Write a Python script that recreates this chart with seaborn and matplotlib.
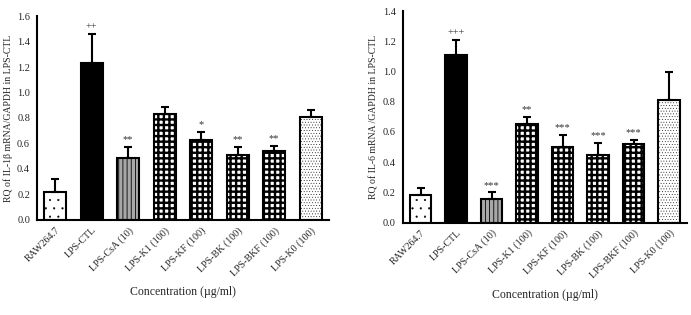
import matplotlib
matplotlib.use("Agg")
import matplotlib.pyplot as plt
import seaborn as sns
import pandas as pd
import numpy as np

categories = ["RAW264.7", "LPS-CTL", "LPS-CsA (10)", "LPS-K1 (100)", "LPS-KF (100)",
              "LPS-BK (100)", "LPS-BKF (100)", "LPS-K0 (100)"]
il1b_mean = [0.22, 1.23, 0.49, 0.83, 0.63, 0.51, 0.54, 0.81]
il1b_err = [0.10, 0.23, 0.08, 0.06, 0.06, 0.06, 0.04, 0.05]
il1b_sig = ["", "++", "**", "", "*", "**", "**", ""]
il6_mean = [0.18, 1.11, 0.16, 0.65, 0.50, 0.45, 0.52, 0.81]
il6_err = [0.05, 0.10, 0.04, 0.05, 0.08, 0.08, 0.03, 0.19]
il6_sig = ["", "+++", "***", "**", "***", "***", "***", ""]

sns.set_style("white")
plt.rcParams['font.family'] = ['Liberation Serif', 'DejaVu Serif']

fig = plt.figure(figsize=(6.91, 3.15), dpi=100)
ax1 = fig.add_axes([0.0535, 0.3016, 0.4226, 0.6476])
ax2 = fig.add_axes([0.583, 0.293, 0.411, 0.672])

styles = [
    dict(fc="white", hatch="..", ec="black", hlw=0.3),
    dict(fc="black", hatch=None, ec="black", hlw=1.0),
    dict(fc="#a8a8a8", hatch="||||", ec="black", hlw=0.6),
    dict(fc="white", hatch="+++", ec="black", hlw=1.7),
    dict(fc="white", hatch="+++", ec="black", hlw=1.7),
    dict(fc="white", hatch="+++", ec="black", hlw=1.7),
    dict(fc="white", hatch="+++", ec="black", hlw=1.7),
    dict(fc="white", hatch="......", ec="black", hlw=0.25),
]

def panel(ax, means, errs, sigs, ylim, ylabel, sig_off):
    df = pd.DataFrame({"cat": categories, "val": means})
    sns.barplot(data=df, x="cat", y="val", ax=ax, width=0.6, color="white",
                edgecolor="black", linewidth=1.5, errorbar=None)
    for p, st in zip(ax.patches, styles):
        p.set_facecolor(st["fc"])
        if st["hatch"]:
            p.set_hatch(st["hatch"])
        p.set_edgecolor(st["ec"])
        if hasattr(p, "set_hatch_linewidth"):
            p.set_hatch_linewidth(st["hlw"])
    x = np.arange(len(categories))
    ax.errorbar(x, means, yerr=[np.zeros(len(means)), errs], fmt="none",
                ecolor="black", elinewidth=1.5, capsize=3, capthick=1.5)
    for xi, m, e, s in zip(x, means, errs, sigs):
        if s:
            ax.annotate(s, (xi, m + e), xytext=(0, sig_off), textcoords="offset points",
                        ha="center", va="bottom", fontsize=7.5, color="#333333")
    ax.set_xlim(-0.5, 7.5)
    ax.set_ylim(*ylim)
    ax.set_yticks(np.arange(0, ylim[1] + 0.01, 0.2))
    ax.set_yticklabels([f"{v:.1f}" for v in np.arange(0, ylim[1] + 0.01, 0.2)], fontsize=7.5)
    ax.set_xticks(x)
    ax.set_xticklabels(categories, rotation=45, ha="right", rotation_mode="anchor", fontsize=7.2)
    ax.set_xticks(np.arange(-0.5, 8, 1), minor=True)
    ax.tick_params(axis="x", which="major", length=0, pad=4)
    ax.tick_params(axis="x", which="minor", length=3, width=1.2, direction="out")
    ax.tick_params(axis="y", length=3, width=1.2, direction="out", pad=2)
    for sp in ["top", "right"]:
        ax.spines[sp].set_visible(False)
    for sp in ["left", "bottom"]:
        ax.spines[sp].set_linewidth(1.5)
        ax.spines[sp].set_color("black")
    ax.set_xlabel("Concentration (µg/ml)", fontsize=8.5, labelpad=6)
    ax.set_ylabel(ylabel, fontsize=7, labelpad=3)

panel(ax1, il1b_mean, il1b_err, il1b_sig, (0, 1.6),
      "RQ of IL-1β mRNA/GAPDH in LPS-CTL", 2)
panel(ax2, il6_mean, il6_err, il6_sig, (0, 1.4),
      "RQ of IL-6 mRNA /GAPDH in LPS-CTL", 2)

fig.savefig("out.png", dpi=100)
